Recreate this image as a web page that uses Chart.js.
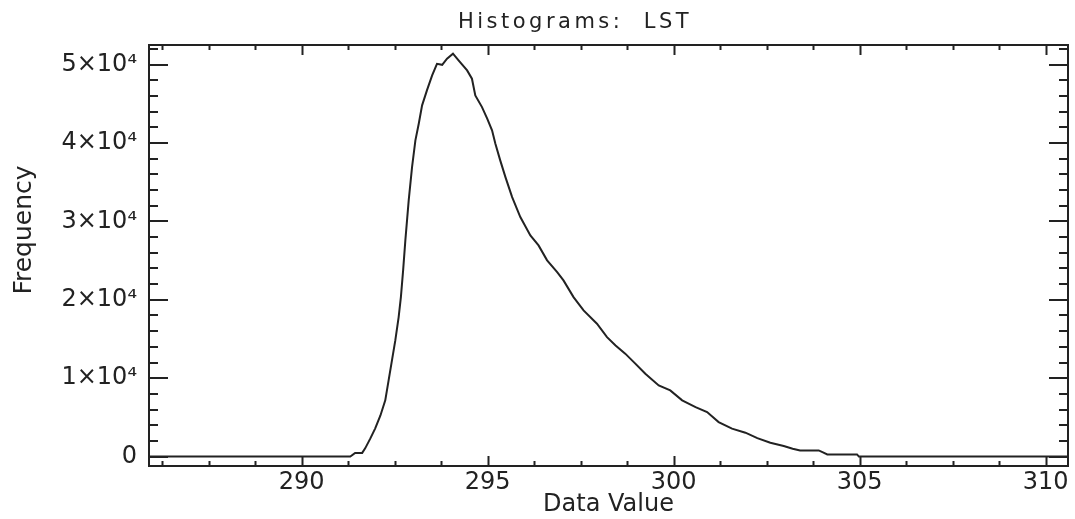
<!DOCTYPE html>
<html>
<head>
<meta charset="utf-8">
<title>Histograms: LST</title>
<script src="https://cdn.jsdelivr.net/npm/chart.js@4/dist/chart.umd.min.js"></script>
<style>
  html, body { margin: 0; padding: 0; background: #fff; }
  #chart { display: block; }
</style>
</head>
<body>
<canvas id="chart" width="1075" height="519"></canvas>
<script>
// Histogram of LST
const dataValue = [
  285.9, 291.31, 291.44, 291.63, 291.71, 291.85, 291.98, 292.12, 292.25, 292.34,
  292.43, 292.52, 292.61, 292.67, 292.73, 292.79, 292.88, 292.97, 293.06, 293.15,
  293.24, 293.37, 293.51, 293.64, 293.78, 293.91, 294.07, 294.22, 294.45, 294.58,
  294.67, 294.85, 294.99, 295.12, 295.21, 295.34, 295.48, 295.66, 295.88, 296.15,
  296.37, 296.60, 296.87, 297.04, 297.31, 297.58, 297.94, 298.21, 298.44, 298.70,
  298.93, 299.24, 299.60, 299.91, 300.23, 300.59, 300.90, 301.21, 301.57, 301.93,
  302.25, 302.60, 302.96, 303.20, 303.40, 303.90, 304.00, 304.13, 304.93, 304.98,
  310.6
];
const frequency = [
  0, 0, 470, 470, 1050, 2320, 3600, 5250, 7170, 9720,
  12270, 14820, 17790, 20340, 23750, 27580, 32680, 36930, 40330, 42460,
  44800, 46710, 48620, 50100, 49970, 50750, 51390, 50540, 49260, 48200,
  46070, 44580, 43100, 41610, 39910, 37780, 35650, 33100, 30550, 28210,
  26940, 25030, 23530, 22470, 20340, 18650, 16950, 15240, 14180, 13130,
  12050, 10570, 9080, 8440, 7170, 6310, 5680, 4400, 3560, 3050,
  2360, 1770, 1340, 1000, 790, 790, 570, 280, 280, 0,
  0
];
const xTicks = [290, 295, 300, 305, 310];
const yTicks = [0, 10000, 20000, 30000, 40000, 50000];

const INK = '#222';
const FONT = 'DejaVu Sans';

// IDL-style frame: box + inward ticks on all four sides, plus the titles
const idlFrame = {
  id: 'idlFrame',
  afterDraw(chart) {
    const { ctx, chartArea: a, scales } = chart;
    const xs = scales.x, ys = scales.y;
    ctx.save();
    ctx.strokeStyle = INK;
    ctx.lineWidth = 2;
    ctx.strokeRect(a.left, a.top, a.right - a.left, a.bottom - a.top);

    ctx.beginPath();
    // x ticks (bottom and top), major 10px, minor 5px
    for (let v = 290 - 1.25 * 4; v <= xs.max + 1e-9; v += 1.25) {
      if (v < xs.min) continue;
      const px = Math.round(xs.getPixelForValue(v)) + 0.5;
      const major = Math.abs(v / 5 - Math.round(v / 5)) < 1e-6;
      const len = major ? 10 : 5;
      ctx.moveTo(px, a.bottom); ctx.lineTo(px, a.bottom - len);
      ctx.moveTo(px, a.top); ctx.lineTo(px, a.top + len);
    }
    // y ticks (left and right), major 19px, minor 9px
    for (let v = 0; v <= ys.max + 1e-9; v += 2000) {
      const py = Math.round(ys.getPixelForValue(v));
      const major = v % 10000 === 0;
      const len = major ? 19 : 9;
      ctx.moveTo(a.left, py); ctx.lineTo(a.left + len, py);
      ctx.moveTo(a.right, py); ctx.lineTo(a.right - len, py);
    }
    ctx.stroke();

    ctx.fillStyle = INK;
    // main title
    ctx.font = '21px "' + FONT + '"';
    ctx.letterSpacing = '3.5px';
    ctx.textAlign = 'center';
    ctx.textBaseline = 'alphabetic';
    ctx.fillText('Histograms:  LST', 575, 28);
    ctx.letterSpacing = '0px';

    // x title
    ctx.font = '24px "' + FONT + '"';
    ctx.fillText('Data Value', (a.left + a.right) / 2, 511);

    // y title
    ctx.translate(31, 230);
    ctx.rotate(-Math.PI / 2);
    ctx.font = '25px "' + FONT + '"';
    ctx.fillText('Frequency', 0, 0);
    ctx.restore();
  }
};

new Chart(document.getElementById('chart'), {
  type: 'line',
  data: {
    datasets: [{
      data: dataValue.map((x, i) => ({ x, y: frequency[i] })),
      borderColor: INK,
      borderWidth: 2,
      pointRadius: 0,
      tension: 0,
      fill: false,
    }],
  },
  options: {
    responsive: false,
    animation: false,
    events: [],
    layout: { padding: { top: 45, right: 7, left: 0, bottom: 0 } },
    plugins: {
      legend: { display: false },
      title: { display: false },
      tooltip: { enabled: false },
    },
    scales: {
      x: {
        type: 'linear',
        min: 285.9,
        max: 310.6,
        afterFit: s => { s.height = 53; },
        afterBuildTicks: s => { s.ticks = xTicks.map(v => ({ value: v })); },
        grid: { display: false, drawTicks: false },
        border: { display: false },
        ticks: {
          color: INK,
          padding: 2,
          maxRotation: 0,
          autoSkip: false,
          font: { family: FONT, size: 24 },
          callback: v => String(v),
        },
      },
      y: {
        type: 'linear',
        min: -1200,
        max: 52500,
        afterFit: s => { s.width = 149; },
        afterBuildTicks: s => { s.ticks = yTicks.map(v => ({ value: v })); },
        grid: { display: false, drawTicks: false },
        border: { display: false },
        ticks: {
          color: INK,
          padding: 12,
          autoSkip: false,
          font: { family: FONT, size: 24 },
          callback: v => v === 0 ? '0' : (v / 10000) + '×10⁴',
        },
      },
    },
  },
  plugins: [idlFrame],
});
</script>
</body>
</html>
